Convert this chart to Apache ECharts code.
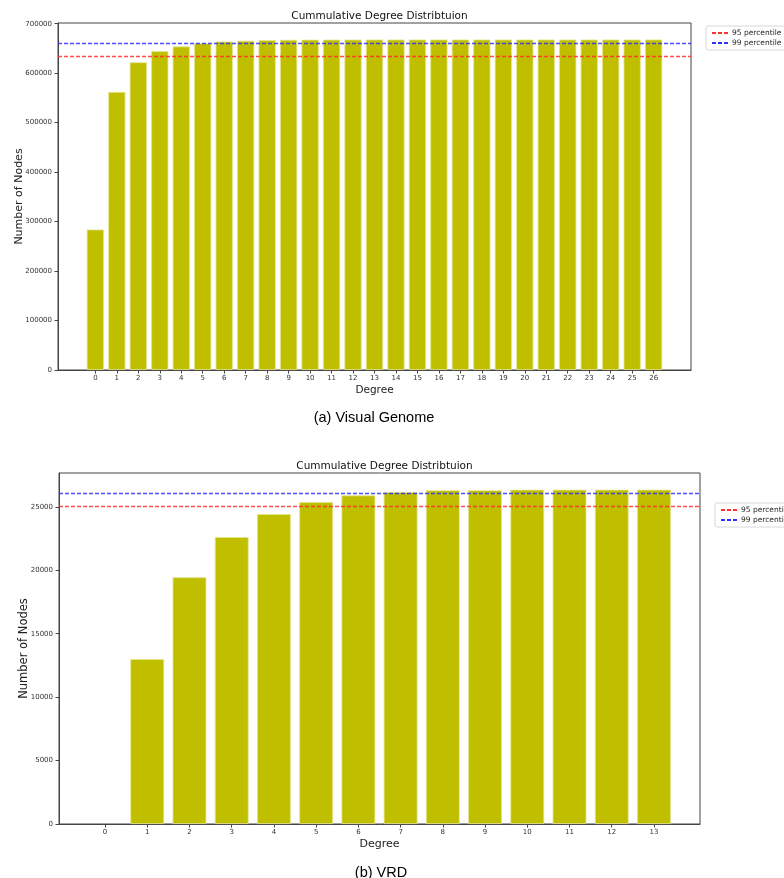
<!DOCTYPE html>
<html>
<head>
<meta charset="utf-8">
<script src="https://cdn.jsdelivr.net/npm/echarts@6/dist/echarts.min.js"></script>
<style>
  html, body { margin: 0; padding: 0; background: #fff; }
  #chart { width: 784px; height: 878px; }
</style>
</head>
<body>
<div id="chart"></div>
<script>
// Visual Genome: cumulative number of nodes with degree <= d
const vgDegrees = [0,1,2,3,4,5,6,7,8,9,10,11,12,13,14,15,16,17,18,19,20,21,22,23,24,25,26];
const vgCounts = [284000, 562000, 622000, 644500, 654000, 660500, 664000, 665500, 666800, 667300,
                  667600, 667800, 667900, 668000, 668000, 668000, 668000, 668000, 668000, 668000,
                  668000, 668000, 668000, 668000, 668000, 668000, 668000];
const vgYTicks = [0, 100000, 200000, 300000, 400000, 500000, 600000, 700000];
const vgP95 = 634600;
const vgP99 = 661300;

// VRD: cumulative number of nodes with degree <= d
const vrdDegrees = [0,1,2,3,4,5,6,7,8,9,10,11,12,13];
const vrdCounts = [0, 13000, 19450, 22620, 24430, 25380, 25900, 26170, 26300, 26300,
                   26350, 26350, 26350, 26350];
const vrdYTicks = [0, 5000, 10000, 15000, 20000, 25000];
const vrdP95 = 25032;
const vrdP99 = 26087;

const percentileNames = ['95 percentile', '99 percentile'];
const chartTitle = 'Cummulative Degree Distribtuion';

const W = 784;
const FONT = 'DejaVu Sans';
const barColor = '#bfbf00';
const plain = v => String(Math.round(v));

// matplotlib-style x limits: bars of width 0.8 plus 5% margins
function xLimits(degrees) {
  const lo = degrees[0] - 0.4, hi = degrees[degrees.length - 1] + 0.4;
  const m = (hi - lo) * 0.05;
  return [lo - m, hi + m];
}

const grids = [
  { left: 58, top: 23, width: 633, height: 347 },
  { left: 59, top: 473, width: 641, height: 351 }
];
const sets = [
  { degrees: vgDegrees, counts: vgCounts, yTicks: vgYTicks, p95: vgP95, p99: vgP99 },
  { degrees: vrdDegrees, counts: vrdCounts, yTicks: vrdYTicks, p95: vrdP95, p99: vrdP99 }
];

const xAxes = [], yAxes = [], series = [], titles = [], legends = [];

sets.forEach((s, i) => {
  const g = grids[i];
  const [xmin, xmax] = xLimits(s.degrees);
  const barW = g.width / (xmax - xmin) * 0.8;
  const ymax = Math.max(...s.counts) * 1.05;

  xAxes.push({
    type: 'value', gridIndex: i, min: xmin, max: xmax,
    name: 'Degree', nameLocation: 'middle', nameGap: 15, nameMoveOverlap: false,
    nameTextStyle: { fontFamily: FONT, fontSize: i === 0 ? 10.5 : 11, color: '#222' },
    axisLine: { show: true, onZero: false, lineStyle: { color: '#444', width: 1 } },
    axisTick: { show: true, length: 3.5, customValues: s.degrees, lineStyle: { color: '#444' } },
    axisLabel: { customValues: s.degrees, formatter: plain, fontFamily: FONT, fontSize: 7, color: '#333', margin: 5 },
    splitLine: { show: false }
  });
  yAxes.push({
    type: 'value', gridIndex: i, min: 0, max: ymax,
    name: 'Number of Nodes', nameLocation: 'middle', nameGap: i === 0 ? 33 : 29, nameMoveOverlap: false,
    nameTextStyle: { fontFamily: FONT, fontSize: i === 0 ? 11 : 11.5, color: '#222' },
    axisLine: { show: true, onZero: false, lineStyle: { color: '#444', width: 1 } },
    axisTick: { show: true, length: 3.5, customValues: s.yTicks, lineStyle: { color: '#444' } },
    axisLabel: { customValues: s.yTicks, formatter: plain, fontFamily: FONT, fontSize: 7, color: '#333', margin: 6 },
    splitLine: { show: false }
  });

  series.push({
    type: 'bar', xAxisIndex: i, yAxisIndex: i,
    data: s.degrees.map((d, k) => ({
      value: [d, s.counts[k]],
      itemStyle: s.counts[k] === 0 ? { borderWidth: 0 } : undefined
    })),
    barWidth: barW,
    itemStyle: { color: barColor, borderColor: '#e4e48c', borderWidth: 0.8 },
    silent: true, animation: false
  });

  const pct = [[s.p95, '#ff3030'], [s.p99, '#3030ff']];
  pct.forEach(([v, c], k) => {
    series.push({
      type: 'line', name: percentileNames[k], xAxisIndex: i, yAxisIndex: i,
      data: [], symbol: 'none',
      lineStyle: { color: c, width: 1.4, type: [4, 2] },
      itemStyle: { color: c },
      markLine: {
        silent: true, symbol: 'none', animation: false,
        label: { show: false },
        lineStyle: { color: c, width: 1.4, type: [4, 2], opacity: 0.85 },
        data: [{ yAxis: v }]
      },
      animation: false
    });
  });

  titles.push({
    text: chartTitle,
    left: g.left + g.width / 2, textAlign: 'center',
    top: g.top - 17,
    textStyle: { fontFamily: FONT, fontSize: 10.5, fontWeight: 'normal', color: '#111' }
  });

  legends.push({
    data: percentileNames,
    orient: 'vertical',
    left: i === 0 ? 706 : 715, top: i === 0 ? 26 : 503,
    padding: [3, 5, 3, 5],
    itemGap: 2, itemWidth: 16, itemHeight: 6,
    itemStyle: { color: 'transparent', borderWidth: 0, opacity: 0 },
    borderColor: '#d8d8d8', borderWidth: 1, borderRadius: 2,
    textStyle: { fontFamily: FONT, fontSize: 7.5, color: '#222', padding: [0, 0, 0, -1] },
    selectedMode: false
  });
});

titles.push({
  text: '(a) Visual Genome', left: 369, textAlign: 'center', top: 405,
  textStyle: { fontFamily: 'Liberation Sans', fontSize: 14.5, fontWeight: 'normal', color: '#000' }
});
titles.push({
  text: '(b) VRD', left: 376, textAlign: 'center', top: 860,
  textStyle: { fontFamily: 'Liberation Sans', fontSize: 14.5, fontWeight: 'normal', color: '#000' }
});

const chart = echarts.init(document.getElementById('chart'), null, { renderer: 'canvas', width: W, height: 878 });
chart.setOption({
  animation: false,
  backgroundColor: '#fff',
  title: titles,
  legend: legends,
  grid: grids.map(g => Object.assign({
    show: true, borderColor: '#444', borderWidth: 1, backgroundColor: 'transparent',
    containLabel: false, outerBoundsMode: 'none'
  }, g)),
  xAxis: xAxes,
  yAxis: yAxes,
  series: series
});
</script>
</body>
</html>
